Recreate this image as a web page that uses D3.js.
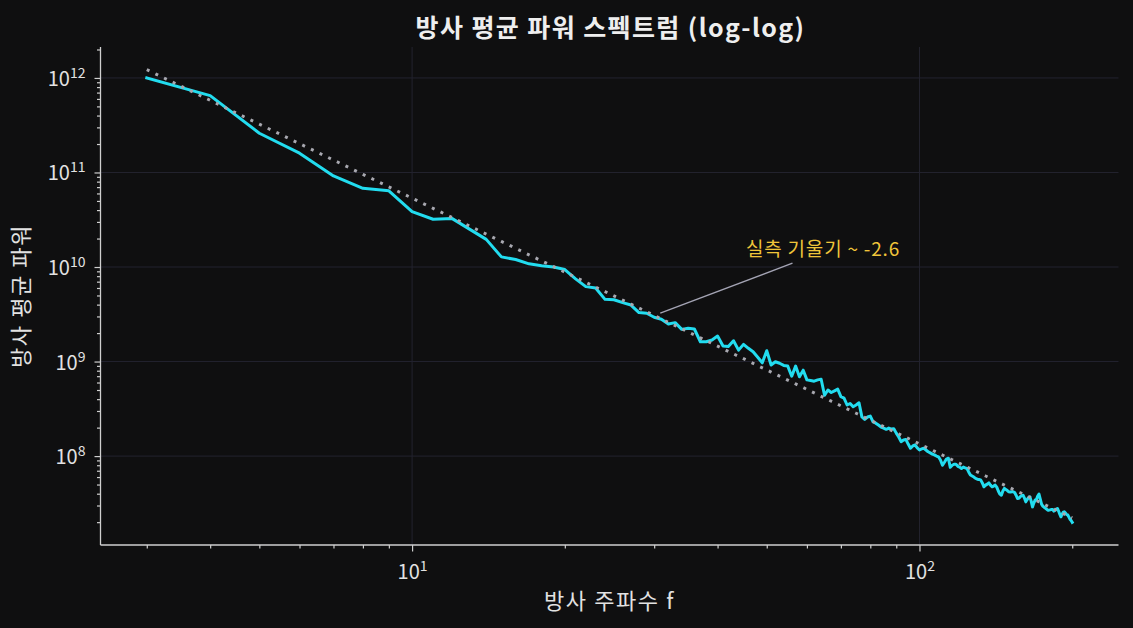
<!DOCTYPE html>
<html>
<head>
<meta charset="utf-8">
<script src="https://cdn.jsdelivr.net/npm/d3@7"></script>
<style>
  html, body { margin: 0; padding: 0; background: #0f0f10; }
  svg { display: block; }
  text { font-family: "Noto Sans CJK KR", "Noto Sans", sans-serif; }
</style>
</head>
<body>
<svg id="chart" width="1133" height="628"></svg>
<script>
// ---- data ----
const freqStart = 3, freqEnd = 200;
const freq = d3.range(freqStart, freqEnd + 1);   // integer radial frequencies 3..200
const power = [
  1.0e12, 6.5e11, 2.6e11, 1.6e11, 9.2e10, 6.8e10, 6.4e10, 3.85e10, 3.2e10, 3.25e10,
  2.5e10, 1.96e10, 1.28e10, 1.2e10, 1.08e10, 1.03e10, 1.0e10, 9.4e9, 7.5e9, 6.2e9,
  6.0e9, 4.55e9, 4.5e9, 4.2e9, 3.96e9, 3.3e9, 3.24e9, 2.94e9, 2.8e9, 2.5e9,
  2.58e9, 2.19e9, 2.25e9, 2.21e9, 1.62e9, 1.62e9, 1.69e9, 1.86e9, 1.46e9, 1.44e9,
  1.66e9, 1.32e9, 1.52e9, 1.38e9, 1.27e9, 1.11e9, 9.7e8, 1.3e9, 9.2e8, 9.95e8,
  9.6e8, 9.1e8, 8.95e8, 7.0e8, 8.95e8, 6.9e8, 8.1e8, 6.4e8, 6.3e8, 6.2e8,
  6.4e8, 6.5e8, 4.4e8, 5.0e8, 4.7e8, 4.9e8, 5.1e8, 4.25e8, 4.1e8, 3.47e8,
  3.6e8, 3.33e8, 3.47e8, 3.66e8, 2.6e8, 2.44e8, 2.59e8, 2.65e8, 2.3e8, 2.23e8,
  2.13e8, 2.03e8, 1.98e8, 1.92e8, 1.98e8, 1.93e8, 1.95e8, 1.75e8, 1.59e8, 1.42e8,
  1.48e8, 1.5e8, 1.34e8, 1.21e8, 1.28e8, 1.31e8, 1.22e8, 1.16e8, 1.19e8, 1.21e8,
  1.16e8, 1.11e8, 1.08e8, 1.05e8, 1.03e8, 1.0e8, 9.8e7, 9.1e7, 8.0e7, 8.6e7,
  9.3e7, 9.5e7, 7.6e7, 8.0e7, 8.2e7, 8.2e7, 7.8e7, 7.65e7, 7.4e7, 7.65e7,
  7.5e7, 7.4e7, 6.8e7, 6.3e7, 6.15e7, 6.0e7, 5.8e7, 5.7e7, 5.65e7, 5.6e7,
  5.2e7, 4.73e7, 4.93e7, 5.05e7, 5.2e7, 4.93e7, 4.73e7, 4.82e7, 4.93e7, 4.7e7,
  4.27e7, 3.96e7, 3.86e7, 4.27e7, 4.55e7, 4.42e7, 4.32e7, 4.19e7, 4.16e7, 4.2e7,
  4.19e7, 4.11e7, 3.86e7, 3.56e7, 3.58e7, 3.72e7, 3.82e7, 3.86e7, 3.6e7, 3.28e7,
  3.47e7, 3.64e7, 3.71e7, 3.34e7, 2.9e7, 3.18e7, 3.42e7, 3.48e7, 3.78e7, 3.96e7,
  3.51e7, 3.1e7, 2.96e7, 2.88e7, 2.82e7, 2.75e7, 2.68e7, 2.68e7, 2.7e7, 2.72e7,
  2.73e7, 2.62e7, 2.68e7, 2.75e7, 2.79e7, 2.62e7, 2.43e7, 2.28e7, 2.43e7, 2.55e7,
  2.57e7, 2.5e7, 2.4e7, 2.38e7, 2.26e7, 2.15e7, 2.08e7, 1.99e7
];
// fitted power law  P = fitAmp * f^fitSlope
const fitSlope = -2.6;
const fitAmp = 2.13e13;
const xMajorTicks = [10, 100];
const yMajorTicks = [1e8, 1e9, 1e10, 1e11, 1e12];
const titleText = "방사 평균 파워 스펙트럼 (log-log)";
const xLabelText = "방사 주파수 f";
const yLabelText = "방사 평균 파워";
const annotText = "실측 기울기 ~ -2.6";
const annotAtFreq = 30;           // point the annotation refers to (on the fit)
const annotTextPos = [45.5, 1.5e10];   // text anchor (left, middle) in data coords
const annotLineFrom = [56.2, 1.1e10];  // annotation line tail in data coords

// ---- layout ----
const W = 1133, H = 628;
const M = { left: 100.5, right: 1118.5, top: 47, bottom: 545 };
const svg = d3.select("#chart");
svg.append("rect").attr("width", W).attr("height", H).attr("fill", "#0f0f10");

const data = freq.map((f, i) => ({ f, v: power[i] }));
const fitData = freq.map(f => ({ f, v: fitAmp * Math.pow(f, fitSlope) }));

function padLog(vals) {
  const lo = Math.log10(d3.min(vals)), hi = Math.log10(d3.max(vals));
  const p = (hi - lo) * 0.05;
  return [Math.pow(10, lo - p), Math.pow(10, hi + p)];
}
const x = d3.scaleLog().domain(padLog(freq)).range([M.left, M.right]);
const y = d3.scaleLog().domain(padLog(power.concat(fitData.map(d => d.v)))).range([M.bottom, M.top]);

// grid
const grid = svg.append("g");
grid.selectAll(".gx").data(xMajorTicks).join("line")
  .attr("x1", d => x(d)).attr("x2", d => x(d)).attr("y1", M.top).attr("y2", M.bottom)
  .attr("stroke", "#23232f").attr("stroke-width", 1);
grid.selectAll(".gy").data(yMajorTicks).join("line")
  .attr("x1", M.left).attr("x2", M.right).attr("y1", d => y(d)).attr("y2", d => y(d))
  .attr("stroke", "#23232f").attr("stroke-width", 1);

// clip
svg.append("clipPath").attr("id", "clip").append("rect")
  .attr("x", M.left).attr("y", M.top).attr("width", M.right - M.left).attr("height", M.bottom - M.top);

const line = d3.line().x(d => x(d.f)).y(d => y(d.v));
const plot = svg.append("g").attr("clip-path", "url(#clip)");
plot.append("path").datum(data).attr("d", line)
  .attr("fill", "none").attr("stroke", "#22dcef").attr("stroke-width", 3)
  .attr("stroke-linejoin", "round").attr("stroke-linecap", "square");
plot.append("path").datum(fitData).attr("d", line)
  .attr("fill", "none").attr("stroke", "#a8a8b0").attr("stroke-width", 3)
  .attr("stroke-dasharray", "3,6.6");

// minor ticks
function minorTicks(domain) {
  const out = [];
  const lo = Math.floor(Math.log10(domain[0])), hi = Math.ceil(Math.log10(domain[1]));
  for (let e = lo; e <= hi; e++) for (let m = 2; m <= 9; m++) {
    const v = m * Math.pow(10, e);
    if (v >= domain[0] && v <= domain[1]) out.push(v);
  }
  return out;
}
const axisColor = "#cfcfcf";
const labelColor = "#e2e2e2";

// x axis
const gx = svg.append("g").attr("transform", `translate(0,${M.bottom})`);
gx.call(d3.axisBottom(x).tickValues(minorTicks(x.domain())).tickSize(3.5).tickFormat(""));
gx.call(g => g.select(".domain").remove());
const gx2 = svg.append("g").attr("transform", `translate(0,${M.bottom})`);
gx2.call(d3.axisBottom(x).tickValues(xMajorTicks).tickSize(6.5).tickPadding(6).tickFormat(""));
gx2.select(".domain").remove();
[gx, gx2].forEach(g => g.selectAll("line").attr("stroke", axisColor).attr("stroke-width", 1.2));
gx2.selectAll(".tick").append("text")
  .attr("y", 34).attr("text-anchor", "middle").attr("fill", labelColor).attr("font-size", 20)
  .each(function(d) {
    const t = d3.select(this);
    t.append("tspan").text("10");
    t.append("tspan").attr("dy", -8).attr("font-size", 14).text(Math.round(Math.log10(d)));
  });

// y axis
const gy = svg.append("g").attr("transform", `translate(${M.left},0)`);
gy.call(d3.axisLeft(y).tickValues(minorTicks(y.domain())).tickSize(3.5).tickFormat(""));
gy.select(".domain").remove();
const gy2 = svg.append("g").attr("transform", `translate(${M.left},0)`);
gy2.call(d3.axisLeft(y).tickValues(yMajorTicks).tickSize(6).tickFormat(""));
gy2.select(".domain").remove();
[gy, gy2].forEach(g => g.selectAll("line").attr("stroke", axisColor).attr("stroke-width", 1.2));
gy2.selectAll(".tick").append("text")
  .attr("x", -15).attr("y", 7.5).attr("text-anchor", "end").attr("fill", labelColor).attr("font-size", 20)
  .each(function(d) {
    const t = d3.select(this);
    t.append("tspan").text("10");
    t.append("tspan").attr("dy", -8).attr("font-size", 14).text(Math.round(Math.log10(d)));
  });

// spines
svg.append("line").attr("x1", M.left).attr("x2", M.left).attr("y1", M.top).attr("y2", M.bottom)
  .attr("stroke", axisColor).attr("stroke-width", 1.3);
svg.append("line").attr("x1", M.left).attr("x2", M.right).attr("y1", M.bottom).attr("y2", M.bottom)
  .attr("stroke", axisColor).attr("stroke-width", 1.3);

// annotation
const ax = x(annotAtFreq), ay = y(fitAmp * Math.pow(annotAtFreq, fitSlope));
const tx = x(annotLineFrom[0]), ty = y(annotLineFrom[1]);
const len = Math.hypot(ax - tx, ay - ty), shrink = 6.5;
svg.append("line")
  .attr("x1", tx).attr("y1", ty)
  .attr("x2", ax - (ax - tx) / len * shrink).attr("y2", ay - (ay - ty) / len * shrink)
  .attr("stroke", "#a4a4b4").attr("stroke-width", 1.4);
svg.append("text").attr("x", x(annotTextPos[0])).attr("y", y(annotTextPos[1]))
  .attr("dominant-baseline", "middle").attr("fill", "#f0c53a").attr("font-size", 19)
  .attr("letter-spacing", 0.8)
  .text(annotText);

// titles
svg.append("text").attr("x", (M.left + M.right) / 2 + 1).attr("y", 37).attr("text-anchor", "middle")
  .attr("fill", "#eeeeee").attr("font-size", 25).attr("font-weight", "bold")
  .attr("letter-spacing", 1.4).text(titleText);
svg.append("text").attr("x", (M.left + M.right) / 2).attr("y", 609).attr("text-anchor", "middle")
  .attr("fill", labelColor).attr("font-size", 22).attr("letter-spacing", 1.6).text(xLabelText);
svg.append("text").attr("transform", `translate(29,${(M.top + M.bottom) / 2}) rotate(-90)`)
  .attr("text-anchor", "middle").attr("fill", labelColor).attr("font-size", 22)
  .attr("letter-spacing", 1.6).text(yLabelText);
</script>
</body>
</html>
